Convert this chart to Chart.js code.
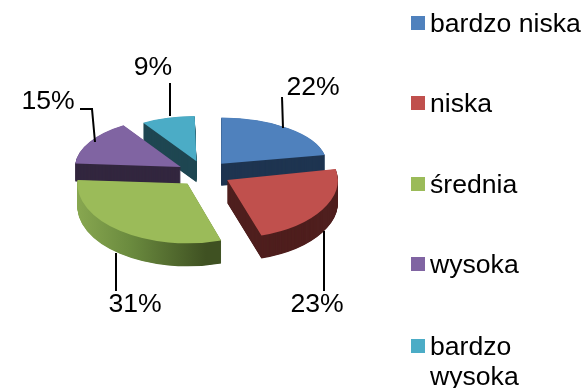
<!DOCTYPE html>
<html>
<head>
<meta charset="utf-8">
<title>pie</title>
<script src="https://cdn.jsdelivr.net/npm/chart.js@4/dist/chart.umd.min.js"></script>
<style>
  html, body { margin: 0; padding: 0; background: #fff; }
  canvas { display: block; }
</style>
</head>
<body>
<canvas id="pie" width="581" height="388"></canvas>
<script>
const categories = ['bardzo niska', 'niska', 'średnia', 'wysoka', ['bardzo', 'wysoka']];
const shares = [22, 23, 31, 15, 9];

const topColors = ['#4f81bd', '#c0504d', '#9bbb59', '#8064a2', '#4bacc6'];
const sideColors = ['#1f3551', '#4f1f1e', null, '#33273f', '#1f4752'];

// fake 3d: squash, wall height, and per slice scale standing in for perspective
const squash = 0.47;
const wallHeight = [22, 23, 23, 18, 21];
const sliceScale = [[1, 0.93], [1.05, 1.18], [1.03, 1.19], [0.96, 0.96], [0.87, 0.82]];
const paintOrder = [4, 3, 0, 1, 2];

// label position [x, y] and leader polyline for each slice
const labelPos = [[313, 88], [317, 305], [135, 305], [48, 102], [153, 68]];
const leaders = [
  [[283, 128], [282, 97]],
  [[324, 231], [324, 291]],
  [[116, 253], [116, 291]],
  [[80, 109], [92, 109], [95, 142]],
  [[170, 116], [170, 83]]
];
const legendRows = [32, 112, 193, 273, 355];
const font = '26.6px "Liberation Sans", Arial, sans-serif';

function drawSlice(chart, i) {
  const ctx = chart.ctx;
  const arc = chart.getDatasetMeta(0).data[i];
  const mid = (arc.startAngle + arc.endAngle) / 2;
  // ArcElement moves a slice by a quarter of its offset option
  const apexX = arc.x + Math.cos(mid) * arc.options.offset / 4;
  const apexY = arc.y + Math.sin(mid) * arc.options.offset / 4;
  const place = function (dy) {
    ctx.translate(0, dy);
    ctx.translate(arc.x, arc.y);
    ctx.scale(1, squash);
    ctx.translate(-arc.x, -arc.y);
    ctx.translate(apexX, apexY);
    ctx.scale(sliceScale[i][0], sliceScale[i][1]);
    ctx.translate(-apexX, -apexY);
  };

  let side = sideColors[i];
  if (!side) {
    side = ctx.createLinearGradient(77, 0, 222, 0);
    side.addColorStop(0, '#93b257');
    side.addColorStop(0.5, '#6a8a3e');
    side.addColorStop(1, '#3f5122');
  }
  const topOptions = arc.options;
  arc.options = Object.assign({}, topOptions, { backgroundColor: side });
  for (let d = wallHeight[i]; d > 0; d -= 0.5) {
    ctx.save();
    place(d);
    arc.draw(ctx);
    ctx.restore();
  }
  arc.options = topOptions;

  ctx.save();
  place(0);
  arc.draw(ctx);
  ctx.restore();
}

const pie3d = {
  id: 'pie3d',
  beforeDatasetDraw(chart) {
    paintOrder.forEach(i => drawSlice(chart, i));
    return false;
  },
  afterDraw(chart) {
    const ctx = chart.ctx;
    ctx.save();
    ctx.font = font;
    ctx.fillStyle = '#000';
    ctx.strokeStyle = '#000';
    ctx.lineWidth = 2;

    // leaders and percent labels
    shares.forEach((v, i) => {
      ctx.beginPath();
      leaders[i].forEach((p, j) => j ? ctx.lineTo(p[0], p[1]) : ctx.moveTo(p[0], p[1]));
      ctx.stroke();
      ctx.textAlign = 'center';
      ctx.textBaseline = 'middle';
      ctx.fillText(v + '%', labelPos[i][0], labelPos[i][1]);
    });

    // legend
    ctx.textAlign = 'left';
    ctx.textBaseline = 'alphabetic';
    categories.forEach((c, i) => {
      ctx.fillStyle = topColors[i];
      ctx.fillRect(411, legendRows[i] - 16, 14, 14);
      ctx.fillStyle = '#000';
      [].concat(c).forEach((line, j) => ctx.fillText(line, 430, legendRows[i] + j * 30));
    });
    ctx.restore();
  }
};

new Chart(document.getElementById('pie'), {
  type: 'pie',
  data: {
    labels: categories,
    datasets: [{
      data: shares,
      backgroundColor: topColors,
      borderWidth: 0,
      offset: 108,
      radius: 105
    }]
  },
  options: {
    responsive: false,
    animation: false,
    events: [],
    radius: 105,
    layout: { padding: { right: 173, bottom: 41 } },
    plugins: {
      legend: { display: false },
      tooltip: { enabled: false }
    }
  },
  plugins: [pie3d]
});
</script>
</body>
</html>
